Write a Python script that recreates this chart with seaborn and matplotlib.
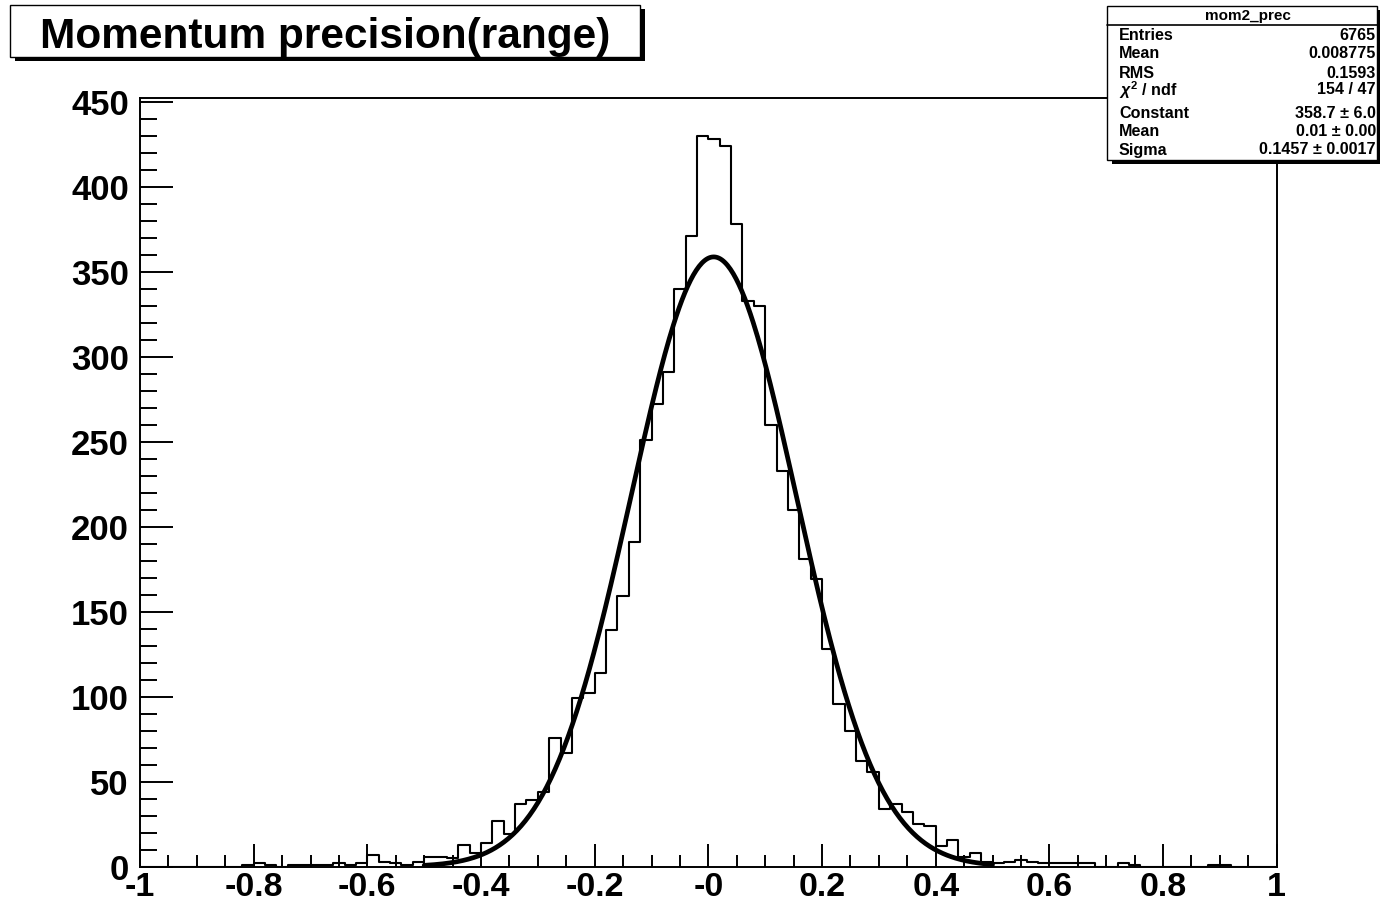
import numpy as np
import pandas as pd
import seaborn as sns
import matplotlib.pyplot as plt
from matplotlib.patches import Rectangle
from matplotlib.ticker import MultipleLocator

# histogram: 100 bins from -1 to 1, counts
x_min, x_max, bin_width = -1.0, 1.0, 0.02
counts = [
    0, 0, 0, 0, 0, 0, 0, 0, 0, 1,
    2, 1, 0, 1, 1, 1, 1, 2, 1, 2,
    7, 3, 2, 1, 3, 6, 6, 5, 13, 8,
    14, 27, 19, 37, 39, 44, 76, 67, 99, 102,
    114, 139, 159, 191, 251, 272, 291, 340, 371, 430,
    428, 424, 378, 333, 330, 260, 233, 210, 181, 169,
    128, 96, 80, 62, 56, 34, 37, 32, 25, 24,
    12, 16, 6, 8, 3, 2, 3, 4, 3, 2,
    2, 2, 2, 2, 0, 0, 2, 1, 0, 0,
    0, 0, 0, 0, 1, 1, 0, 0, 0, 0,
]

# gaussian fit parameters
fit_const = 358.7
fit_mean = 0.0094
fit_sigma = 0.1457
fit_range = (-0.5, 0.5)

x_ticks = [-1, -0.8, -0.6, -0.4, -0.2, 0, 0.2, 0.4, 0.6, 0.8, 1]
x_tick_labels = ["-1", "-0.8", "-0.6", "-0.4", "-0.2", "-0", "0.2", "0.4", "0.6", "0.8", "1"]
y_ticks = [0, 50, 100, 150, 200, 250, 300, 350, 400, 450]

stats_names = ["Entries", "Mean", "RMS", r"$\chi^{2}$ / ndf", "Constant", "Mean", "Sigma"]
stats_values = ["6765", "0.008775", "0.1593", "154 / 47", "358.7 ± 6.0", "0.01 ± 0.00", "0.1457 ± 0.0017"]

sns.set_style("ticks")
plt.rcParams['font.family'] = ['Liberation Sans', 'DejaVu Sans']
plt.rcParams['text.color'] = 'black'
plt.rcParams['xtick.color'] = 'black'
plt.rcParams['ytick.color'] = 'black'
plt.rcParams['mathtext.fontset'] = 'custom'
plt.rcParams['mathtext.rm'] = 'Liberation Sans:bold'
plt.rcParams['mathtext.it'] = 'Liberation Sans:italic:bold'

W, H = 1380, 905
fig = plt.figure(figsize=(W / 100, H / 100), dpi=100)


def px(x, y):
    return x / W, 1 - y / H


left, top = 140, 98.3
right, bottom = 1276.7, 866.7
ax = fig.add_axes([left / W, 1 - bottom / H, (right - left) / W, (bottom - top) / H])

centers = x_min + bin_width * (np.arange(len(counts)) + 0.5)
df = pd.DataFrame({"x": centers, "n": counts})
sns.histplot(data=df, x="x", weights="n", binwidth=bin_width, binrange=(x_min, x_max),
             element="step", fill=False, color="black", linewidth=1.5, ax=ax)

xf = np.linspace(fit_range[0], fit_range[1], 400)
fit = pd.DataFrame({"x": xf, "y": fit_const * np.exp(-0.5 * ((xf - fit_mean) / fit_sigma) ** 2)})
sns.lineplot(data=fit, x="x", y="y", color="black", linewidth=3.4, ax=ax, sort=False)

ax.set_xlim(-1, 1)
ax.set_ylim(0, 452)
ax.set_xlabel("")
ax.set_ylabel("")
ax.set_xticks(x_ticks)
ax.set_xticklabels(x_tick_labels)
ax.set_yticks(y_ticks)
ax.xaxis.set_minor_locator(MultipleLocator(0.05))
ax.yaxis.set_minor_locator(MultipleLocator(10))
for s in ax.spines.values():
    s.set_visible(True)
    s.set_linewidth(1.4)
    s.set_color("black")
ax.tick_params(axis="x", which="major", direction="in", length=16.5, width=1.4, pad=4,
               labelsize=24.5)
ax.tick_params(axis="x", which="minor", direction="in", length=8.5, width=1.4)
ax.tick_params(axis="y", which="major", direction="in", length=24, width=1.4, pad=8,
               labelsize=25)
ax.tick_params(axis="y", which="minor", direction="in", length=12, width=1.4)
for lab in ax.get_xticklabels() + ax.get_yticklabels():
    lab.set_fontweight("bold")


def shadow_box(x0, y0, x1, y1, off=4.5):
    sx, sy = px(x0 + off, y1 + off)
    fig.add_artist(Rectangle((sx, sy), (x1 - x0) / W, (y1 - y0) / H,
                             transform=fig.transFigure, facecolor="black",
                             edgecolor="none", zorder=5))
    bx, by = px(x0, y1)
    fig.add_artist(Rectangle((bx, by), (x1 - x0) / W, (y1 - y0) / H,
                             transform=fig.transFigure, facecolor="white",
                             edgecolor="black", linewidth=1.0, zorder=6))


# title box
shadow_box(10, 5, 640, 57)
fig.text(*px(325, 48), "Momentum precision(range)", ha="center", va="baseline",
         fontsize=30.5, fontweight="bold", zorder=7)

# stats box
shadow_box(1107, 6, 1377, 160)
fig.add_artist(plt.Line2D([1107 / W, 1377 / W], [1 - 25 / H, 1 - 25 / H],
                          transform=fig.transFigure, color="black", linewidth=1.2, zorder=7))
fig.text(*px(1248, 16), "mom2_prec", ha="center", va="center", fontsize=11,
         fontweight="bold", zorder=7)
row_y = [35, 53, 73, 90, 113, 131, 150]
for name, val, yy in zip(stats_names, stats_values, row_y):
    fig.text(*px(1119, yy), name, ha="left", va="center", fontsize=11.6,
             fontweight="bold", zorder=7)
    fig.text(*px(1376, yy), val, ha="right", va="center", fontsize=11.6,
             fontweight="bold", zorder=7)

fig.savefig("out.png", dpi=100)
